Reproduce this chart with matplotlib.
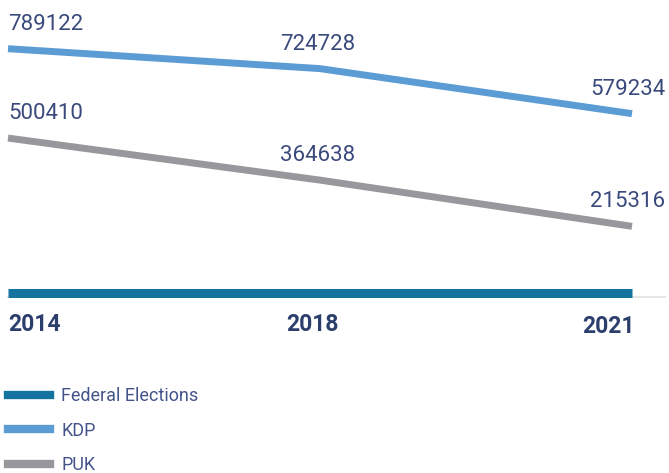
import matplotlib
matplotlib.use("Agg")
import matplotlib.pyplot as plt
from matplotlib.lines import Line2D
import matplotlib.transforms as mtransforms

years = ["2014", "2018", "2021"]
series_names = ["Federal Elections", "KDP", "PUK"]
federal = [0, 0, 0]
kdp = [789122, 724728, 579234]
puk = [500410, 364638, 215316]

colors = {"Federal Elections": "#15739f", "KDP": "#5b9cd5", "PUK": "#98989c"}
label_color = "#3b4a7c"
year_color = "#2c3e6b"

W, H = 669, 473
fig = plt.figure(figsize=(W / 100, H / 100), dpi=100)

# axes placement in pixels
x_left, x_right = 8, 665
y_top, y_bottom = 30, 297
ax = fig.add_axes([x_left / W, 1 - y_bottom / H, (x_right - x_left) / W, (y_bottom - y_top) / H])
px_per_cat = 312.0
ax.set_xlim(0, (x_right - x_left) / px_per_cat)
units_per_px = 3230.0
ax.set_ylim(-(y_bottom - 293) * units_per_px, (293 - y_top) * units_per_px)

xs = list(range(len(years)))
ax.plot(xs, federal, color=colors["Federal Elections"], lw=6.5, solid_capstyle="butt", clip_on=False, zorder=3)
ax.plot(xs, kdp, color=colors["KDP"], lw=5, solid_capstyle="butt", clip_on=False, zorder=3)
ax.plot(xs, puk, color=colors["PUK"], lw=5, solid_capstyle="butt", clip_on=False, zorder=3)

for s in ["top", "left", "right"]:
    ax.spines[s].set_visible(False)
ax.spines["bottom"].set_color("#e0e0e0")
ax.spines["bottom"].set_linewidth(1.2)
ax.set_yticks([])
ax.set_xticks([])

fam = ["Roboto", "DejaVu Sans"]
# value labels
for vals in (kdp, puk):
    for i, v in enumerate(vals):
        if i == 0:
            ha, dx = "left", 0
        elif i == len(vals) - 1:
            ha, dx = "right", 24
        else:
            ha, dx = "center", -2
        ax.annotate(str(v), (xs[i], v), xytext=(dx, 10), textcoords="offset points",
                    ha=ha, va="bottom", fontsize=16, color=label_color,
                    family=fam, fontweight="normal", annotation_clip=False)

# year labels
trans = mtransforms.blended_transform_factory(ax.transData, ax.transAxes)
for i, y in enumerate(years):
    ha = "left" if i == 0 else ("right" if i == len(years) - 1 else "center")
    dx = 0 if i == 0 else (3 if i == len(years) - 1 else -7)
    off = mtransforms.offset_copy(trans, fig=fig, x=dx * 0.72, y=-16 * 0.72 - (1.5 if i == 2 else 0), units="points")
    ax.text(xs[i], 0, y, transform=off, ha=ha, va="top", fontsize=16.5,
            fontweight="bold", color=year_color, family=fam)

handles = [Line2D([0], [0], color=colors[n], lw=6) for n in series_names]
leg = fig.legend(handles, series_names, loc="upper left", bbox_to_anchor=(8 / W, 1 - 387 / H),
                 frameon=False, handlelength=2.35, handletextpad=0.6,
                 labelspacing=0.92, borderaxespad=0, borderpad=0,
                 prop={"family": fam, "size": 13})
for t in leg.get_texts():
    t.set_color("#44548a")

fig.savefig("out.png", dpi=100)
